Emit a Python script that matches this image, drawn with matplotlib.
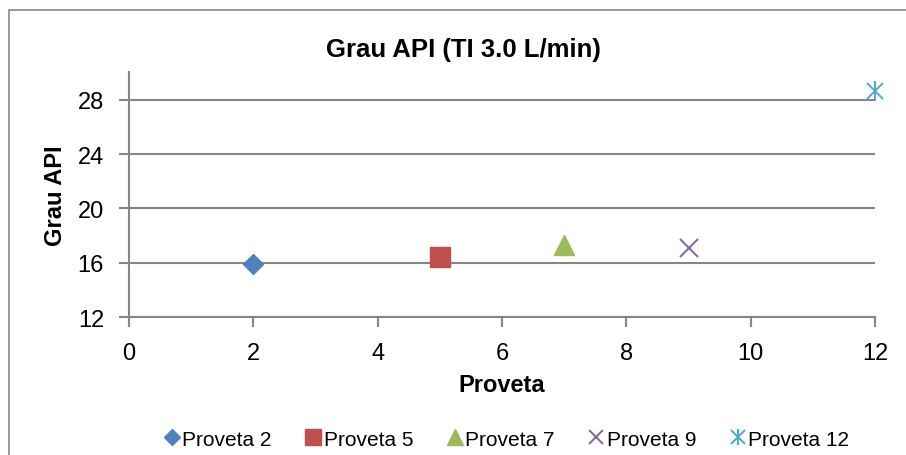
import matplotlib
matplotlib.use('Agg')
import matplotlib.pyplot as plt
from matplotlib.patches import Rectangle
from matplotlib.legend_handler import HandlerTuple

plt.rcParams['font.family'] = ['Liberation Sans', 'DejaVu Sans']

# data
series_names = ['Proveta 2', 'Proveta 5', 'Proveta 7', 'Proveta 9', 'Proveta 12']
proveta_x = [2, 5, 7, 9, 12]
grau_api = [15.9, 16.4, 17.3, 17.1, 28.6]
colors = ['#4F81BD', '#C0504D', '#9BBB59', '#8064A2', '#4BACC6']
y_ticks = [12, 16, 20, 24, 28]
x_ticks = [0, 2, 4, 6, 8, 10, 12]

grid_color = '#868686'

fig = plt.figure(figsize=(9.06, 4.56), dpi=100)
ax = fig.add_axes([0.1424, 0.302, 0.8234, 0.537])

handles = []
# diamond, square, triangle, x
h = ax.plot(proveta_x[0], grau_api[0], linestyle='none', marker='D', ms=10,
            color=colors[0], mec=colors[0], zorder=3)[0]
handles.append(h)
h = ax.plot(proveta_x[1], grau_api[1], linestyle='none', marker='s', ms=14,
            color=colors[1], mec=colors[1], zorder=3)[0]
handles.append(h)
h = ax.plot(proveta_x[2], grau_api[2], linestyle='none', marker='^', ms=14,
            color=colors[2], mec=colors[2], zorder=3)[0]
handles.append(h)
h = ax.plot(proveta_x[3], grau_api[3], linestyle='none', marker='x', ms=13, mew=1.4,
            color=colors[3], zorder=3)[0]
handles.append(h)
# asterisk = x plus vertical bar
h1 = ax.plot(proveta_x[4], grau_api[4], linestyle='none', marker='x', ms=12, mew=1.4,
             color=colors[4], zorder=3, clip_on=False)[0]
h2 = ax.plot(proveta_x[4], grau_api[4], linestyle='none', marker='|', ms=15, mew=1.4,
             color=colors[4], zorder=3, clip_on=False)[0]
handles.append((h1, h2))

ax.set_xlim(0, 12)
ax.set_ylim(12, 30)
ax.set_xticks(x_ticks)
ax.set_yticks(y_ticks)
ax.yaxis.grid(True, color=grid_color, linewidth=1.5)
ax.set_axisbelow(True)

for side in ['top', 'right']:
    ax.spines[side].set_visible(False)
for side in ['left', 'bottom']:
    ax.spines[side].set_color(grid_color)
    ax.spines[side].set_linewidth(1.5)

ax.tick_params(axis='both', direction='out', length=7, width=1.5, color=grid_color,
               labelsize=17, pad=11)

# title is centred on the whole chart frame, not on the plot area
ax.set_title('Grau API (TI 3.0 L/min)', fontsize=18.5, fontweight='bold',
             x=0.448, pad=12)
ax.set_xlabel('Proveta', fontsize=17, fontweight='bold', labelpad=6)
ax.set_ylabel('Grau API', fontsize=17, fontweight='bold', labelpad=8)

fig.legend(handles, series_names, loc='center', bbox_to_anchor=(0.559, 0.035),
           ncol=5, frameon=False, fontsize=15, markerscale=0.8,
           handler_map={tuple: HandlerTuple(ndivide=1)},
           handlelength=0.8, handletextpad=0.1, columnspacing=1.6)

# outer chart frame
fig.patches.append(Rectangle((8.5 / 906, -0.1), 1.1, 1 - 10.5 / 456 + 0.1,
                             transform=fig.transFigure, fill=False,
                             edgecolor='#898989', linewidth=1.2))

fig.savefig('out.png', dpi=100)
